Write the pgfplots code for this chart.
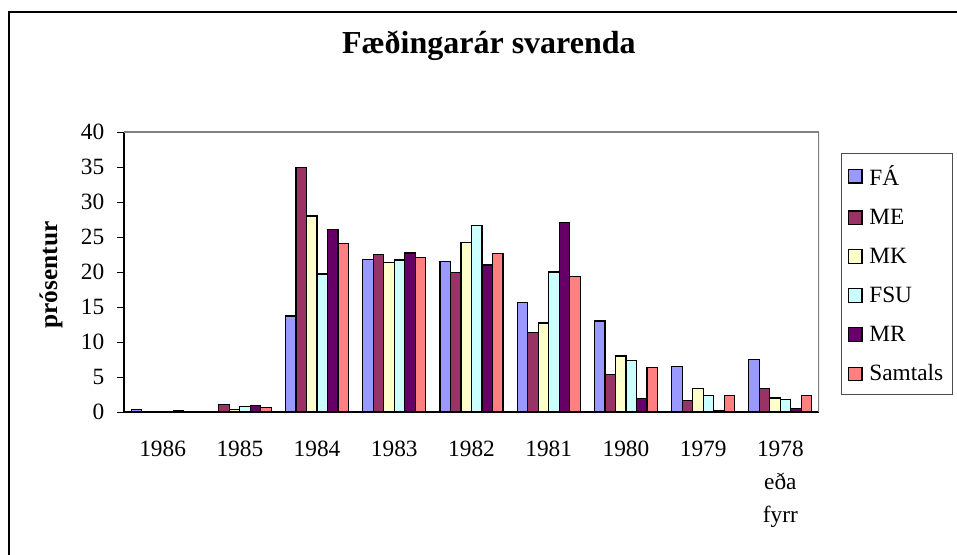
\documentclass[border=0pt]{standalone}
\usepackage{pgfplots}
\pgfplotsset{compat=1.18}
\usepackage{fontspec}
\setmainfont{Liberation Serif}
\definecolor{cFA}{HTML}{9999FF}
\definecolor{cME}{HTML}{993366}
\definecolor{cMK}{HTML}{FFFFCC}
\definecolor{cFSU}{HTML}{CCFFFF}
\definecolor{cMR}{HTML}{660066}
\definecolor{cSA}{HTML}{FF8080}
\begin{document}
\begin{tikzpicture}
\useasboundingbox (0,0) rectangle (717.75pt,416.25pt);
\draw[line width=0.8pt] (6.75pt,-20pt) -- (6.75pt,407.25pt) -- (740pt,407.25pt);
\begin{axis}[
  at={(93pt,107.25pt)}, anchor=south west,
  scale only axis, width=521.25pt, height=210pt,
  xmin=-0.5, xmax=8.5, ymin=0, ymax=40,
  axis lines=left, axis line style={-, black, line width=0.8pt},
  ytick={0,5,...,40},
  /pgf/number format/assume math mode=true,
  tick align=outside,
  major tick length=5.25pt,
  ytick style={black, line width=0.6pt},
  xtick={0,...,8},
  xticklabels={1986,1985,1984,1983,1982,1981,1980,1979,{1978\\eða\\fyrr}},
  xtick style={draw=none},
  minor xtick={-0.5,0.5,...,8.5},
  minor x tick style={black, line width=0.6pt},
  minor tick length=5.25pt,
  tick label style={font=\fontsize{17.5}{24.75}\selectfont, black},
  xticklabel style={align=center, yshift=-13pt},
  yticklabel style={xshift=-6pt},
  title={Fæðingarár svarenda},
  title style={font=\fontsize{24}{28}\selectfont\bfseries, at={(rel axis cs:0.525,1.25)}, anchor=base, yshift=0pt},
  ylabel={prósentur},
  ylabel style={font=\fontsize{19}{22}\selectfont\bfseries, at={(rel axis cs:-0.105,0.489)}, anchor=center},
  ybar, bar width=0.136,
  every axis plot/.append style={draw=black, line width=0.9pt},
  legend cell align=left,
  legend style={at={(rel axis cs:1.0317,0.925)}, anchor=north west, draw=black!70, line width=0.6pt,
    font=\fontsize{17.5}{20}\selectfont, row sep=12.2pt, inner xsep=5pt, inner ysep=7pt},
  legend image code/.code={\draw[#1, line width=0.9pt] (0pt,-5pt) rectangle (10pt,5pt); \path (13pt,0pt);},
]
\addplot[fill=cFA, bar shift=-0.34] coordinates {(0,0.3) (2,13.7) (3,21.8) (4,21.5) (5,15.6) (6,13.0) (7,6.5) (8,7.5)};
\addplot[fill=cME, bar shift=-0.204] coordinates {(1,1.1) (2,34.9) (3,22.5) (4,19.9) (5,11.4) (6,5.4) (7,1.6) (8,3.3)};
\addplot[fill=cMK, bar shift=-0.068] coordinates {(1,0.4) (2,28.0) (3,21.4) (4,24.2) (5,12.7) (6,8.0) (7,3.4) (8,2.0)};
\addplot[fill=cFSU, bar shift=0.068] coordinates {(1,0.8) (2,19.7) (3,21.7) (4,26.6) (5,20.0) (6,7.4) (7,2.4) (8,1.8)};
\addplot[fill=cMR, bar shift=0.204] coordinates {(0,0.2) (1,0.9) (2,26.1) (3,22.7) (4,21.0) (5,27.1) (6,1.9) (7,0.2) (8,0.5)};
\addplot[fill=cSA, bar shift=0.34] coordinates {(1,0.6) (2,24.1) (3,22.1) (4,22.6) (5,19.3) (6,6.4) (7,2.4) (8,2.4)};
\legend{FÁ,ME,MK,FSU,MR,Samtals}
\draw[gray, line width=1.2pt] (rel axis cs:0,1) -- (rel axis cs:1,1) -- (rel axis cs:1,0);
\end{axis}
\end{tikzpicture}
\end{document}
